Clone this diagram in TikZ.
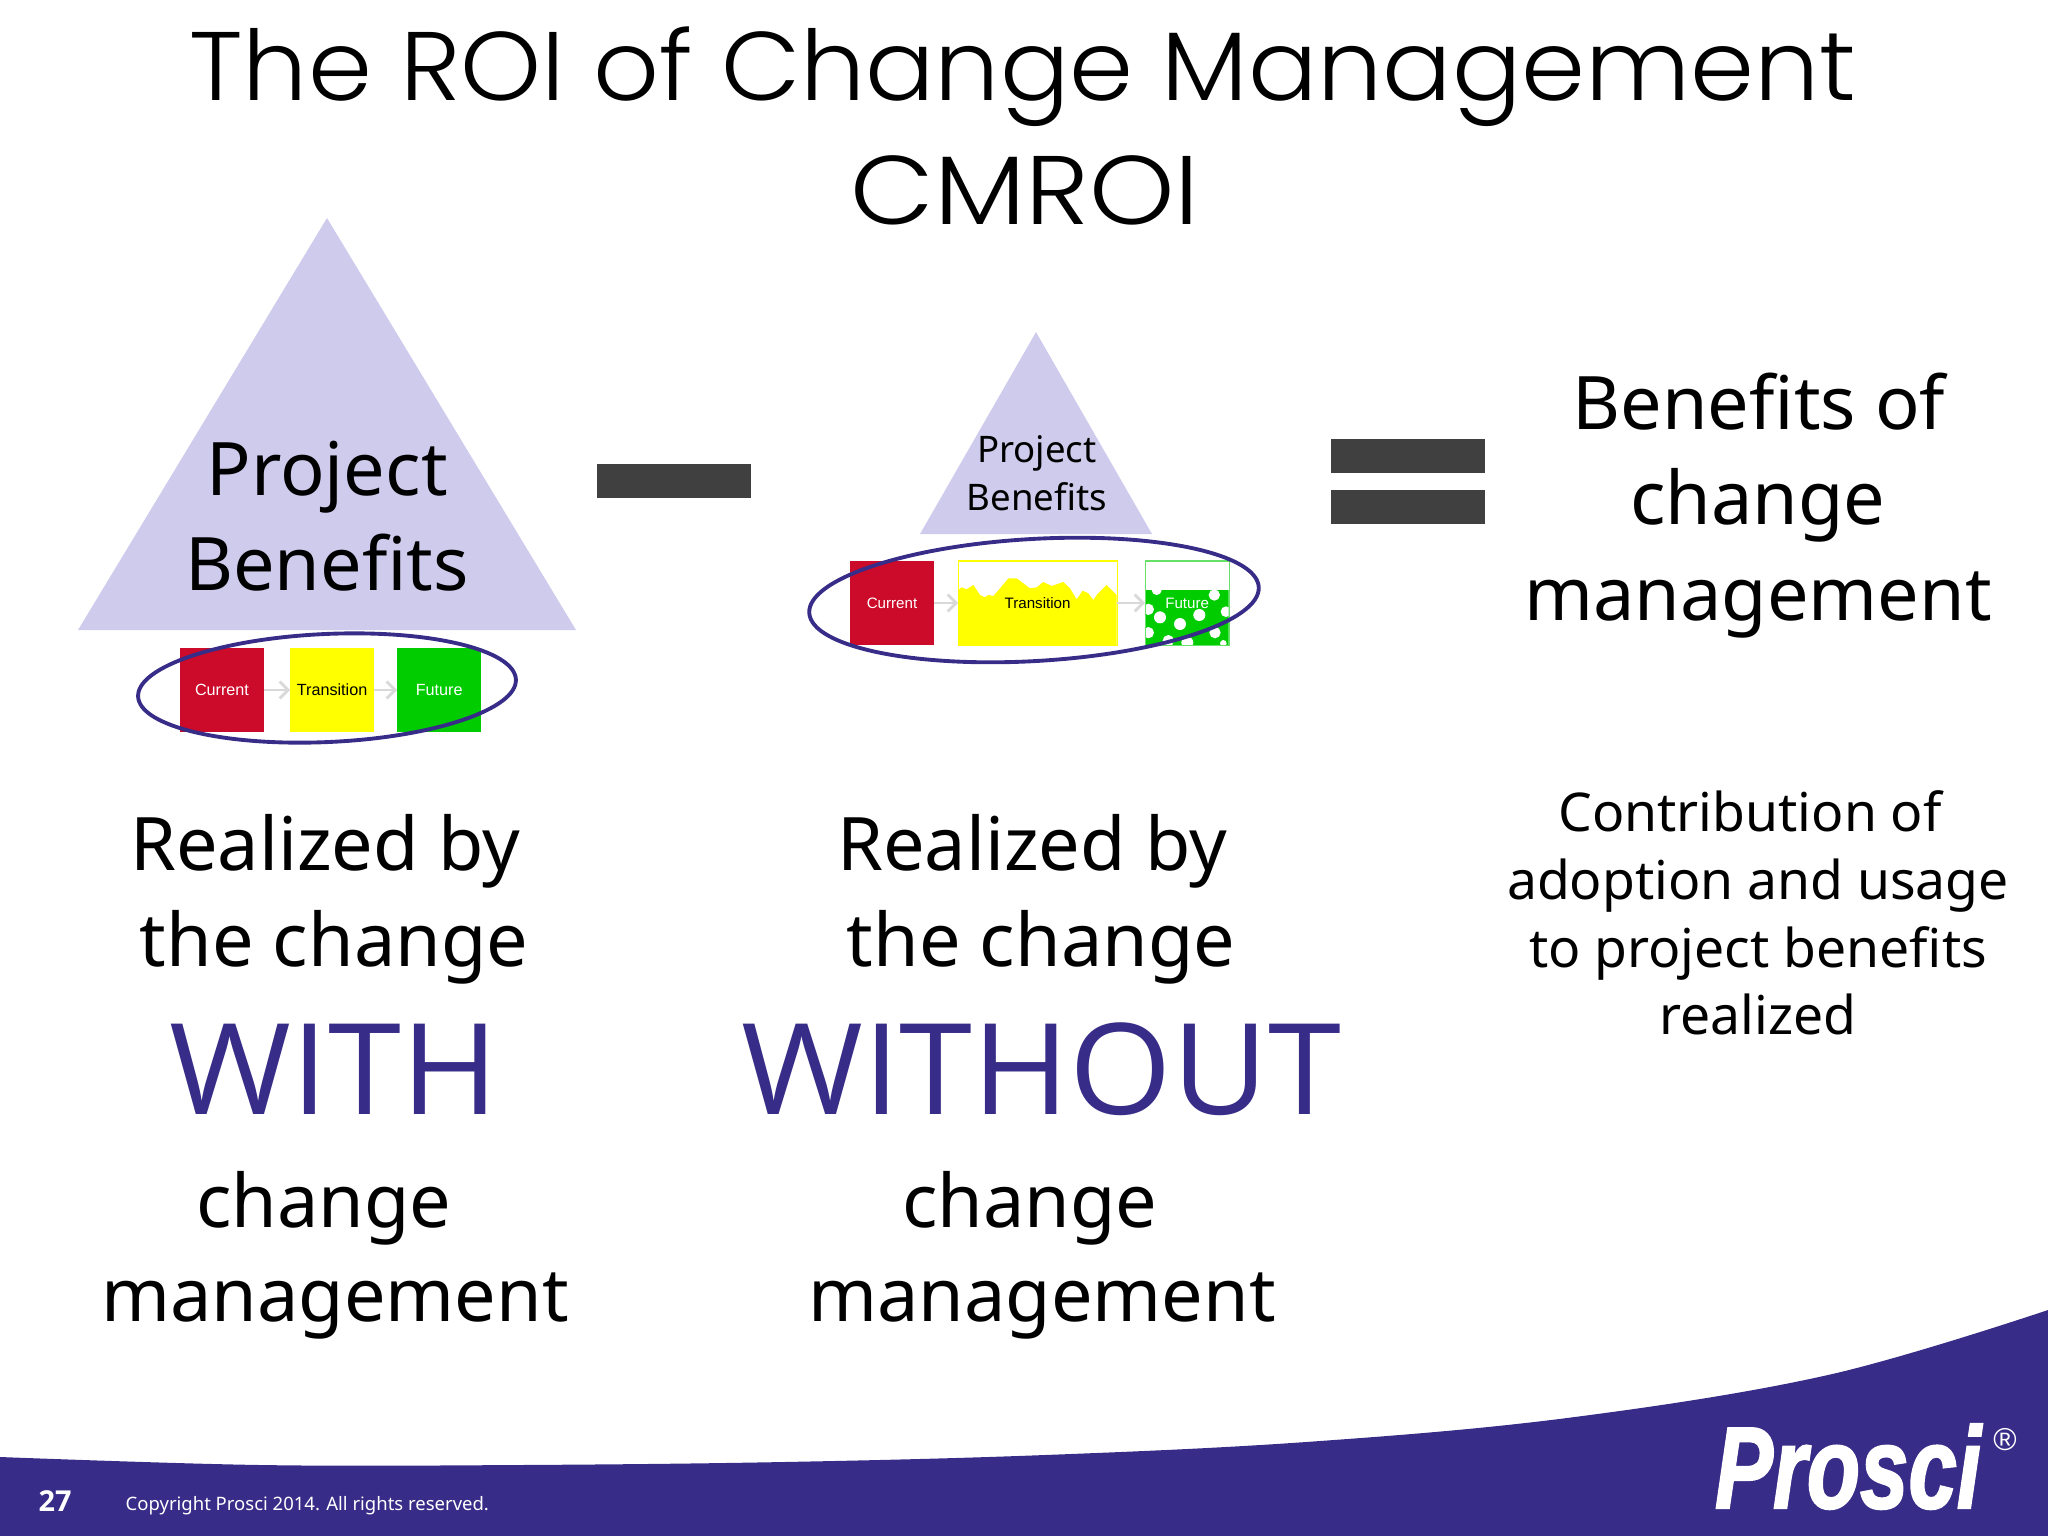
\documentclass[tikz,border=0pt]{standalone}
\usepackage{fontspec}
\usepackage{xcolor}
\usepackage{tikz}
\usetikzlibrary{positioning, arrows.meta, shapes.geometric}
\setmainfont{Noto Sans}
\newfontfamily\titlefont{Poppins Light}
\newfontfamily\bigfont{Open Sans}
\newfontfamily\boldfont{Open Sans Bold}
\newfontfamily\boxfont{Liberation Sans}
\newfontfamily\logofont[FakeBold=2]{Liberation Sans Bold Italic}
\definecolor{proscipurple}{HTML}{372C87}
\definecolor{trianglefill}{HTML}{CFCBEC}
\definecolor{opcolor}{HTML}{404040}
\definecolor{boxred}{HTML}{CC0A29}
\definecolor{boxyellow}{HTML}{FFFF00}
\definecolor{boxgreen}{HTML}{00CC00}
\definecolor{arrowgray}{HTML}{D9D9D9}

\begin{document}
\begin{tikzpicture}[
    x=0.01cm, y=-0.01cm,
    titletext/.style={anchor=base, inner sep=0pt, font=\titlefont\fontsize{27.7}{30}\selectfont},
    bodytext/.style={anchor=base, inner sep=0pt, font=\fontsize{21}{24}\selectfont},
    smalltext/.style={anchor=base, inner sep=0pt, font=\fontsize{15.2}{18}\selectfont},
    bigword/.style={anchor=base, inner sep=0pt, xscale=1.04, text=proscipurple, font=\bigfont\fontsize{36}{40}\selectfont},
    triangletext/.style={anchor=base, inner sep=0pt, font=\fontsize{10.4}{12}\selectfont},
    stagebox/.style={rectangle, inner sep=0pt, outer sep=0pt, minimum width=0.84cm, minimum height=0.84cm, font=\boxfont\fontsize{4.6}{5}\selectfont},
    stagearrow/.style={draw=arrowgray, line width=0.8pt, -{Straight Barb[length=2.4pt,width=4.8pt]}},
    rolloutring/.style={ellipse, draw=proscipurple, line width=1.1pt, inner sep=0pt},
    opbar/.style={fill=opcolor, draw=none},
]
\useasboundingbox (0,0) rectangle (2048,1536);

% title
\node[titletext, xscale=1.056](title_a) at (1023,100){The ROI of Change Management};
\node[titletext, xscale=1.115](title_b) at (1025,224){CMROI};

% footer band
\fill[proscipurple] (0,1536) -- plot[smooth, tension=0.6] coordinates {(0,1457) (260,1465) (520,1465) (784,1462) (1045,1455) (1306,1442) (1567,1418) (1828,1375) (2048,1310)} -- (2048,1536) -- cycle;
\node[inner sep=0pt, anchor=base, text=white, font=\boldfont\fontsize{8.2}{9}\selectfont](page_no) at (55,1511){27};
\node[inner sep=0pt, anchor=base west, text=white, font=\fontsize{5.26}{7}\selectfont](copyright) at (125,1510){Copyright Prosci 2014. All rights reserved.};
\node[inner sep=0pt, anchor=base, text=white, xscale=0.75, font=\logofont\fontsize{33}{36}\selectfont](logo) at (1848,1508){Prosci};
\node[inner sep=0pt, anchor=center, text=white, font=\boxfont\fontsize{9}{10}\selectfont](logo_r) at (2005,1440){\textregistered};

% left triangle
\fill[trianglefill] (327,218) -- (576,630) -- (78,630) -- cycle;
\node[bodytext](pb_a) at (327,495){Project};
\node[bodytext](pb_b) at (327,590){Benefits};

% left stages
\node[stagebox, fill=boxred, text=white](cur_a) at (222,690){Current};
\node[stagebox, fill=boxyellow, text=black](tra_a)[right = 0.26cm of cur_a]{Transition};
\node[stagebox, fill=boxgreen, text=white](fut_a)[right = 0.23cm of tra_a]{Future};
\draw[stagearrow] (cur_a) -- (tra_a);
\draw[stagearrow] (tra_a) -- (fut_a);
\node[rolloutring, rotate=2.6, minimum width=3.78cm, minimum height=1.08cm](ring_a) at (327,688){};

% minus
\fill[opbar] (597,464) rectangle (751,498);

% middle triangle
\fill[trianglefill] (1036,332) -- (1152,534) -- (920,534) -- cycle;
\node[triangletext](pb_c) at (1037,462){Project};
\node[triangletext](pb_d) at (1037,510){Benefits};

% middle stages, partly filled
\begin{scope}[shift={(780,500)}, scale=1/3]
\fill[boxyellow] (535,270) -- (545,262) -- (560,268) -- (580,255) -- (600,285) -- (615,292) -- (625,285) -- (640,288) -- (660,265) -- (685,235) -- (710,235) -- (750,265) -- (770,262) -- (790,246) -- (815,258) -- (850,246) -- (870,265) -- (890,298) -- (908,272) -- (925,280) -- (940,300) -- (950,285) -- (980,255) -- (1010,285) -- (1010,435) -- (535,435) -- cycle;
\begin{scope}
\clip (1094,270) rectangle (1346,435);
\fill[boxgreen] (1094,270) rectangle (1346,435);
\foreach \cx/\cy/\cr in {1130/270/15, 1303/285/17, 1105/328/17, 1140/352/18, 1258/345/18, 1200/372/18, 1338/335/16, 1105/398/17, 1165/422/17, 1222/428/18, 1305/398/17, 1330/430/10}
    \fill[white] (\cx,\cy) circle (\cr);
\end{scope}
\end{scope}
\node[stagebox, fill=boxred, text=white, font=\boxfont\fontsize{4.3}{5}\selectfont](cur_b) at (892,603){Current};
\node[stagebox, draw=boxyellow, line width=0.3pt, minimum width=1.59cm, font=\boxfont\fontsize{4.3}{5}\selectfont](tra_b)[right = 0.24cm of cur_b]{Transition};
\node[stagebox, draw=boxgreen!60, line width=0.3pt, text=white, font=\boxfont\fontsize{4.3}{5}\selectfont](fut_b)[right = 0.28cm of tra_b]{Future};
\draw[stagearrow] (cur_b) -- (tra_b);
\draw[stagearrow] (tra_b) -- (fut_b);
\node[rolloutring, rotate=3.3, minimum width=4.5cm, minimum height=1.22cm](ring_b) at (1034,600){};

% equals
\fill[opbar] (1331,439) rectangle (1485,473);
\fill[opbar] (1331,490) rectangle (1485,524);

% captions
\node[bodytext](with_a) at (325,870){Realized by};
\node[bodytext](with_b) at (334,966){the change};
\node[bigword](with_c) at (334,1114){WITH};
\node[bodytext](with_d) at (324,1227){change};
\node[bodytext](with_e) at (335,1321){management};

\node[bodytext](wo_a) at (1032,870){Realized by};
\node[bodytext](wo_b) at (1041,966){the change};
\node[bigword](wo_c) at (1041,1114){WITHOUT};
\node[bodytext](wo_d) at (1030,1227){change};
\node[bodytext](wo_e) at (1042,1321){management};

\node[bodytext](res_a) at (1759,429){Benefits of};
\node[bodytext](res_b) at (1758,524){change};
\node[bodytext](res_c) at (1758,620){management};

\node[smalltext](note_a) at (1750,831){Contribution of};
\node[smalltext](note_b) at (1758,899){adoption and usage};
\node[smalltext](note_c) at (1758,967){to project benefits};
\node[smalltext](note_d) at (1758,1034){realized};
\end{tikzpicture}
\end{document}
